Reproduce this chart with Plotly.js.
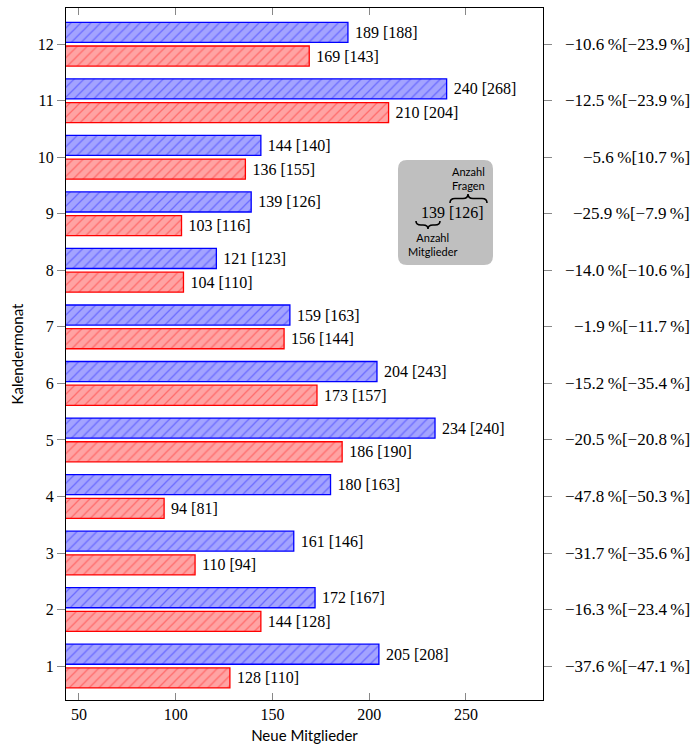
<!DOCTYPE html>
<html>
<head>
<meta charset="utf-8">
<script src="https://cdn.plot.ly/plotly-3.0.1.min.js"></script>
<style>body{margin:0;padding:0;background:#fff;} #chart{width:693px;height:745px;}</style>
</head>
<body>
<div id="chart"></div>
<script>
// ---- data ----
var months = [1,2,3,4,5,6,7,8,9,10,11,12];
var membersNew = [205,172,161,180,234,204,159,121,139,144,240,189];
var questionsNew = [208,167,146,163,240,243,163,123,126,140,268,188];
var membersOld = [128,144,110,94,186,173,156,104,103,136,210,169];
var questionsOld = [110,128,94,81,190,157,144,110,116,155,204,143];
var changeMembers = ["−37.6","−16.3","−31.7","−47.8","−20.5","−15.2","−1.9","−14.0","−25.9","−5.6","−12.5","−10.6"];
var changeQuestions = ["−47.1","−23.4","−35.6","−50.3","−20.8","−35.4","−11.7","−10.6","−7.9","10.7","−23.9","−23.9"];
var xTicks = [50,100,150,200,250];

// ---- layout helpers ----
var W = 693, H = 745, ML = 66, MR = 150, MT = 8, MB = 45;
var PW = W - ML - MR, PH = H - MT - MB;
function px(x){ return (x - ML) / PW; }
function py(y){ return (H - MB - y) / PH; }
function P(x, y){ return px(x).toFixed(5) + ',' + py(y).toFixed(5); }

function brace(x1, x2, y0, yTip, xm){
  var ym = (y0 + yTip) / 2, r = 5;
  return 'M' + P(x1, y0) + ' Q' + P(x1, ym) + ' ' + P(x1 + r, ym) +
    ' L' + P(xm - r, ym) + ' Q' + P(xm, ym) + ' ' + P(xm, yTip) +
    ' Q' + P(xm, ym) + ' ' + P(xm + r, ym) +
    ' L' + P(x2 - r, ym) + ' Q' + P(x2, ym) + ' ' + P(x2, y0);
}
function roundRect(x0, y0, x1, y1, r){
  return 'M' + P(x0 + r, y0) + ' L' + P(x1 - r, y0) + ' Q' + P(x1, y0) + ' ' + P(x1, y0 + r) +
    ' L' + P(x1, y1 - r) + ' Q' + P(x1, y1) + ' ' + P(x1 - r, y1) +
    ' L' + P(x0 + r, y1) + ' Q' + P(x0, y1) + ' ' + P(x0, y1 - r) +
    ' L' + P(x0, y0 + r) + ' Q' + P(x0, y0) + ' ' + P(x0 + r, y0) + ' Z';
}

var serif = 'Liberation Serif';
var sans = 'Lato';

var barW = 0.355, halfGap = 0.032;

var traceNew = {
  type: 'bar', orientation: 'h',
  x: membersNew, y: months,
  width: barW, offset: halfGap,
  text: membersNew.map(function(v, i){ return ' ' + v + ' [' + questionsNew[i] + ']'; }),
  textposition: 'outside', constraintext: 'none', cliponaxis: false,
  textfont: {family: serif, size: 16, color: '#000'},
  marker: {
    color: '#a3a3ff',
    line: {color: '#0000ff', width: 1.3},
    pattern: {shape: '/', fgcolor: '#6b6bff', bgcolor: '#a3a3ff', size: 7, solidity: 0.18, fillmode: 'replace'}
  },
  hoverinfo: 'skip', showlegend: false
};
var traceOld = {
  type: 'bar', orientation: 'h',
  x: membersOld, y: months,
  width: barW, offset: -halfGap - barW,
  text: membersOld.map(function(v, i){ return ' ' + v + ' [' + questionsOld[i] + ']'; }),
  textposition: 'outside', constraintext: 'none', cliponaxis: false,
  textfont: {family: serif, size: 16, color: '#000'},
  marker: {
    color: '#ffa3a3',
    line: {color: '#ff0000', width: 1.3},
    pattern: {shape: '/', fgcolor: '#ff6b6b', bgcolor: '#ffa3a3', size: 7, solidity: 0.18, fillmode: 'replace'}
  },
  hoverinfo: 'skip', showlegend: false
};

var annotations = months.map(function(m, i){
  return {
    xref: 'paper', yref: 'y', x: px(692), y: m, xanchor: 'right', yanchor: 'middle',
    text: changeMembers[i] + '\u2009%[' + changeQuestions[i] + '\u2009%]',
    showarrow: false, font: {family: serif, size: 17, color: '#000'}
  };
});
annotations.push(
  {xref:'paper', yref:'paper', x: px(452), y: py(212), text: '139 [126]', showarrow:false,
   xanchor:'center', yanchor:'middle', font:{family: serif, size: 16, color:'#000'}},
  {xref:'paper', yref:'paper', x: px(468), y: py(178), text: 'Anzahl<br>Fragen', showarrow:false,
   xanchor:'center', yanchor:'middle', font:{family: sans, size: 11, color:'#000'}},
  {xref:'paper', yref:'paper', x: px(432), y: py(244), text: 'Anzahl<br>Mitglieder', showarrow:false,
   xanchor:'center', yanchor:'middle', font:{family: sans, size: 11, color:'#000'}}
);

var shapes = [
  {type:'path', xref:'paper', yref:'paper', path: roundRect(398, 160, 493, 265, 9),
   fillcolor:'#bfbfbf', line:{width:0}, layer:'above'},
  {type:'path', xref:'paper', yref:'paper', path: brace(416, 440, 221, 229, 428),
   line:{color:'#000', width:1.6}, layer:'above'},
  {type:'path', xref:'paper', yref:'paper', path: brace(450, 487, 203, 194, 468),
   line:{color:'#000', width:1.6}, layer:'above'}
];

var layout = {
  width: W, height: H,
  margin: {l: ML, r: MR, t: MT, b: MB, pad: 0},
  paper_bgcolor: '#fff', plot_bgcolor: '#fff',
  barmode: 'overlay',
  showlegend: false,
  xaxis: {
    range: [43.3, 289.8], tickvals: xTicks, ticktext: xTicks.map(String),
    ticks: 'inside', ticklen: 7, tickcolor: '#888', tickwidth: 1,
    showline: true, linecolor: '#000', linewidth: 1, mirror: 'ticks',
    showgrid: false, zeroline: false,
    tickfont: {family: serif, size: 16, color: '#000'},
    title: {text: 'Neue Mitglieder', font: {family: sans, size: 15, color: '#000'}, standoff: 8}
  },
  yaxis: {
    range: [0.4, 12.64], tickvals: months, ticktext: months.map(String),
    ticks: 'outside', ticklen: 8, tickcolor: '#888', tickwidth: 1,
    showline: true, linecolor: '#000', linewidth: 1, mirror: 'ticks',
    showgrid: false, zeroline: false,
    tickfont: {family: serif, size: 16, color: '#000'},
    title: {text: 'Kalendermonat', font: {family: sans, size: 15, color: '#000'}, standoff: 10}
  },
  annotations: annotations,
  shapes: shapes
};

Plotly.newPlot('chart', [traceNew, traceOld], layout, {staticPlot: true, displayModeBar: false});
</script>
</body>
</html>
